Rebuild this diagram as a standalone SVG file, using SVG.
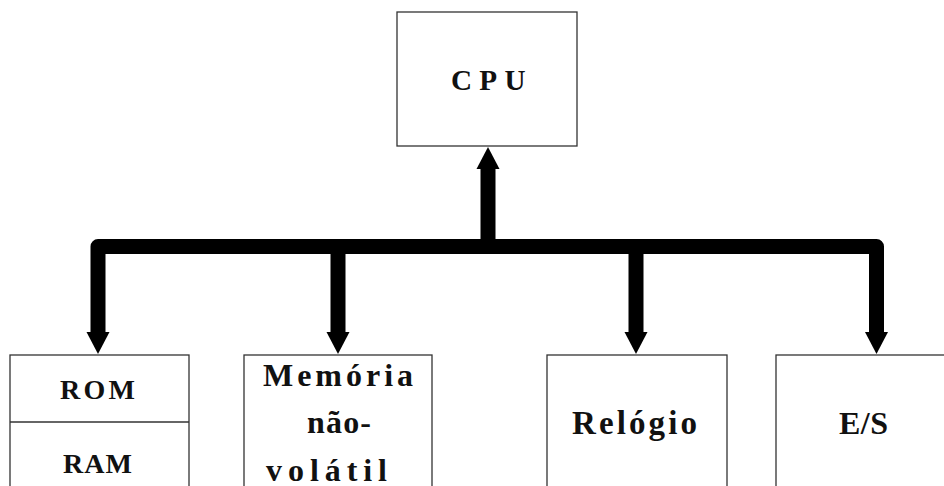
<svg xmlns="http://www.w3.org/2000/svg" width="944" height="486" viewBox="0 0 944 486">
<style>
.box{fill:#fff;stroke:#333;stroke-width:1.3}
.t{font-family:"Liberation Serif","Times New Roman",serif;font-weight:bold;fill:#111}
.bus{fill:none;stroke:#000;stroke-width:15;stroke-linejoin:round}
.head{fill:#000}
</style>
<rect width="944" height="486" fill="#fff"/>
<g id="connectors">
<path class="bus" d="M98,334 L98,246.5 L876.5,246.5 L876.5,334"/>
<path class="bus" d="M338,246 L338,334"/>
<path class="bus" d="M636,246 L636,334"/>
<path class="bus" d="M488,246 L488,166"/>
<polygon class="head" points="86.5,332 109.5,332 98,354"/>
<polygon class="head" points="326.5,332 349.5,332 338,354"/>
<polygon class="head" points="624.5,332 647.5,332 636,354"/>
<polygon class="head" points="865,332 888,332 876.5,354"/>
<polygon class="head" points="476.5,169 499.5,169 488,147"/>
</g>
<g id="cpu">
<rect class="box" x="397" y="12" width="180" height="134"/>
<text class="t" x="451" y="90" font-size="27" textLength="69" lengthAdjust="spacing" transform="translate(451 90) scale(1.08 1.12) translate(-451 -90)">CPU</text>
</g>
<g id="rom-ram">
<rect class="box" x="10" y="355" width="179" height="140"/>
<line x1="10" y1="422" x2="189" y2="422" stroke="#333" stroke-width="1.3"/>
<text class="t" x="60" y="399" font-size="28" textLength="75" lengthAdjust="spacing">ROM</text>
<text class="t" x="63" y="473" font-size="28" textLength="69" lengthAdjust="spacing">RAM</text>
</g>
<g id="memoria">
<rect class="box" x="244" y="355" width="188" height="140"/>
<text class="t" x="263" y="386" font-size="32" textLength="150" lengthAdjust="spacing">Memória</text>
<text class="t" x="307" y="433" font-size="32" textLength="64" lengthAdjust="spacing">não-</text>
<text class="t" x="266" y="481" font-size="32" textLength="121" lengthAdjust="spacing">volátil</text>
</g>
<g id="relogio">
<rect class="box" x="547" y="355" width="180" height="140"/>
<text class="t" x="572" y="434" font-size="33" textLength="125" lengthAdjust="spacing">Relógio</text>
</g>
<g id="es">
<rect class="box" x="776" y="355" width="180" height="140"/>
<text class="t" x="839" y="434" font-size="32" textLength="49" lengthAdjust="spacing">E/S</text>
</g>
</svg>
